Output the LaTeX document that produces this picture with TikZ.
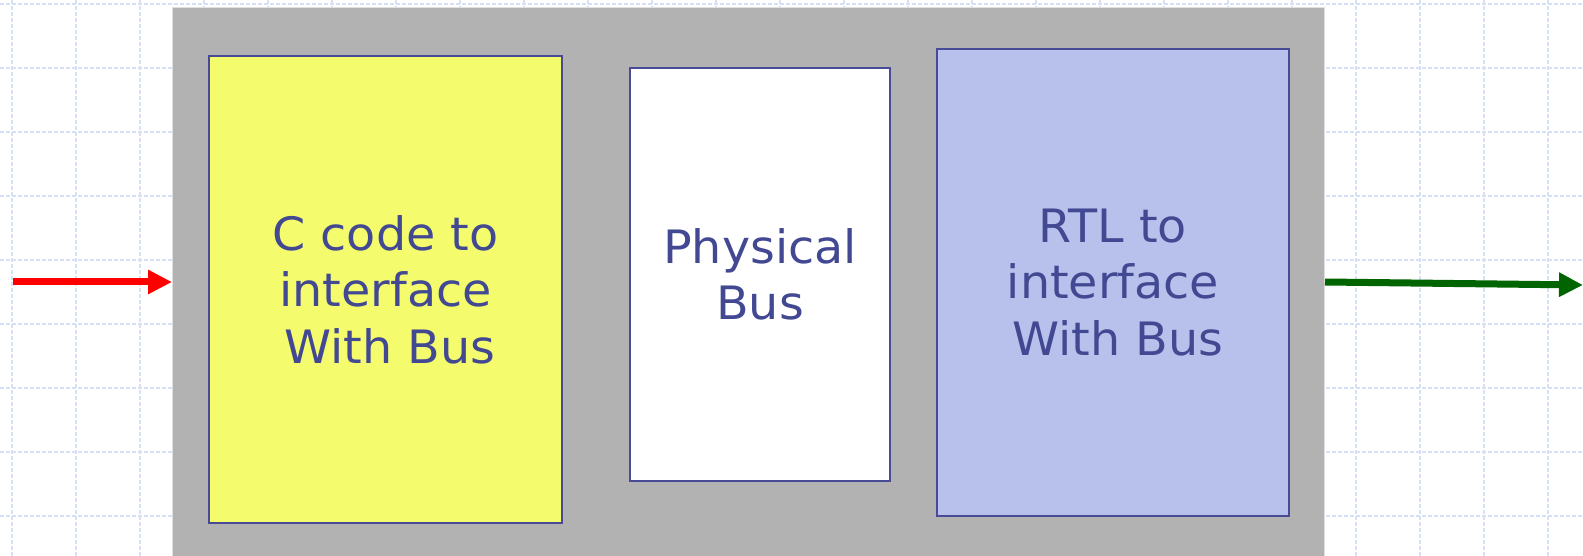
\documentclass[tikz,border=0pt]{standalone}
\usepackage{fontspec}
\setmainfont[FakeStretch=1.035]{DejaVu Sans}
\usetikzlibrary{arrows.meta}
\definecolor{gridc}{RGB}{216,224,248}
\definecolor{panelc}{RGB}{178,178,178}
\definecolor{yellowc}{RGB}{244,252,110}
\definecolor{bluec}{RGB}{184,193,235}
\definecolor{edgec}{RGB}{72,74,150}
\definecolor{textc}{RGB}{66,72,145}
\definecolor{greenc}{RGB}{0,100,0}
\tikzset{
  blockbox/.style={draw=edgec, line width=2pt, rectangle, inner sep=0pt, anchor=north west,
    text=textc, align=center, font=\fontsize{46}{56.5}\selectfont},
  flowarrow/.style={line width=7pt, -{Triangle[length=24pt,width=23pt]}},
}
\begin{document}
\begin{tikzpicture}[x=1pt,y=-1pt]
\useasboundingbox (0,0) rectangle (1583,556);
% background grid
\foreach \gx in {12,76,...,1560} {\draw[gridc, line width=1.2pt, dash pattern=on 4pt off 2pt] (\gx,0) -- (\gx,556);}
\foreach \gy in {4,68,...,556} {\draw[gridc, line width=1.2pt, dash pattern=on 4pt off 2pt] (0,\gy) -- (1583,\gy);}
% gray panel
\node[fill=panelc, draw=black!12, line width=1pt, rectangle, inner sep=0pt, anchor=north west,
  minimum width=1152pt, minimum height=550pt] (panel) at (172,7) {};
% blocks
\node[blockbox, fill=yellowc, minimum width=353pt, minimum height=467pt] (cbox) at (208,55)
  {C code to\\interface\hspace{0.3em}\\\hspace{0.2em}With Bus};
\node[blockbox, fill=white, minimum width=260pt, minimum height=413pt] (pbox) at (629,67)
  {Physical\\Bus};
\node[blockbox, fill=bluec, minimum width=352pt, minimum height=467pt] (rbox) at (936,48)
  {RTL to\\interface\hspace{0.3em}\\\hspace{0.2em}With Bus};
% arrows
\coordinate (rstart) at (13,282);
\coordinate (gend) at (1583,285);
\draw[flowarrow, red] (rstart) -- (rstart -| panel.west);
\draw[flowarrow, greenc] (panel.east |- 0,282) -- (gend);
\end{tikzpicture}
\end{document}
